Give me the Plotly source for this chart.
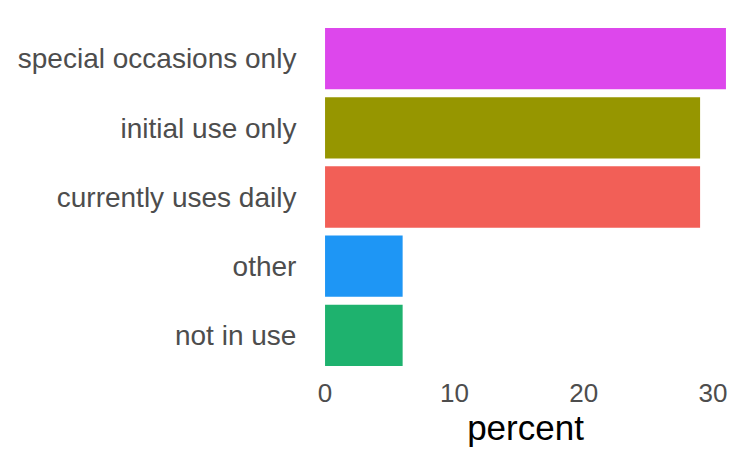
import plotly.graph_objects as go

categories = ["not in use", "other", "currently uses daily", "initial use only", "special occasions only"]
percent = [6, 6, 29, 29, 31]
colors = ["#1EB26E", "#1E96F5", "#F25F57", "#969600", "#DD47EC"]
x_ticks = [0, 10, 20, 30]

fig = go.Figure(go.Bar(
    x=percent, y=categories, orientation="h",
    marker=dict(color=colors, line=dict(width=0)),
    width=0.885, showlegend=False,
))

# page body has 8px default margin -> figure is 740x441 placed at (8,8)
fig.update_layout(
    width=740, height=441,
    margin=dict(l=297, r=2, t=9, b=72),
    paper_bgcolor="white", plot_bgcolor="white",
    font=dict(family="Liberation Sans, Arial, sans-serif"),
)
fig.update_xaxes(
    range=[-1.55, 32.55], tickvals=x_ticks, showgrid=False, zeroline=False,
    ticks="", ticklabelstandoff=-2,
    tickfont=dict(size=26, color="#4D4D4D"),
    title=dict(text="percent", font=dict(size=35, color="black"), standoff=3),
)
fig.update_yaxes(
    range=[-0.6, 4.6], categoryorder="array", categoryarray=categories,
    showgrid=False, zeroline=False,
    ticks="outside", ticklen=2, tickcolor="white",
    tickfont=dict(size=28, color="#4D4D4D"),
)

fig.write_html("out.html")
